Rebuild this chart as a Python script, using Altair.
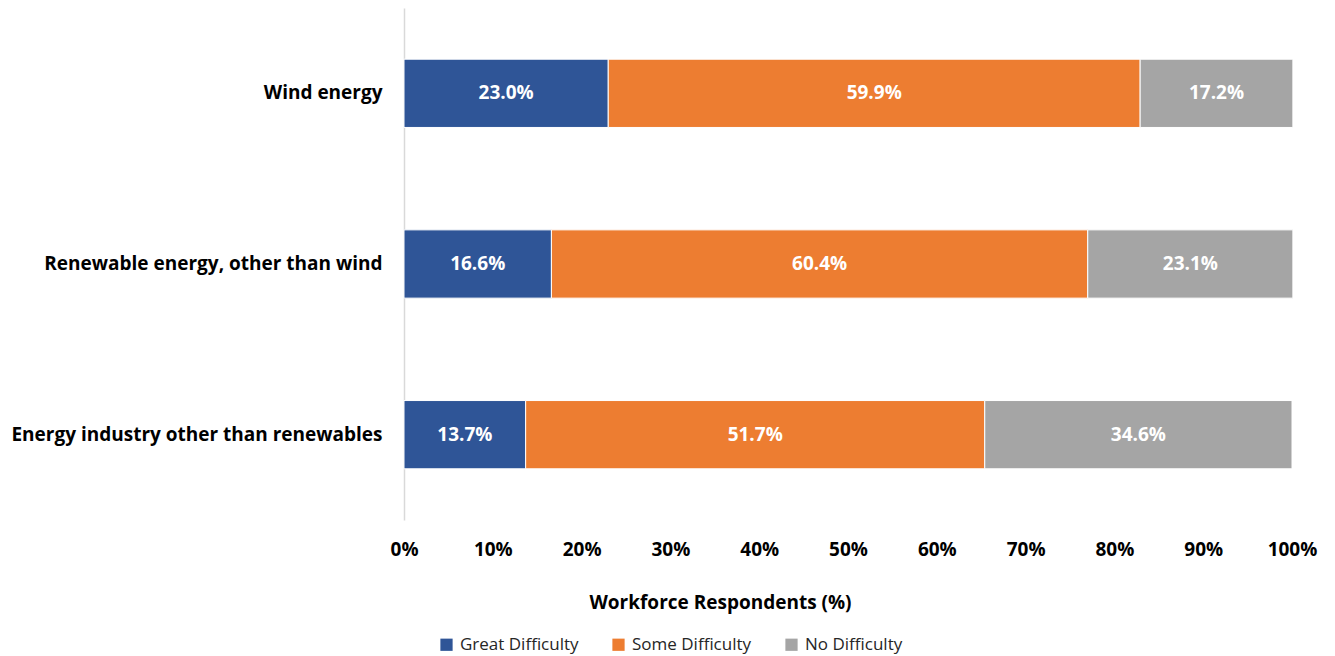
import altair as alt
import pandas as pd

categories = ["Wind energy", "Renewable energy, other than wind", "Energy industry other than renewables"]
series = ["Great Difficulty", "Some Difficulty", "No Difficulty"]
great = [23.0, 16.6, 13.7]
some = [59.9, 60.4, 51.7]
none_ = [17.2, 23.1, 34.6]
colors = ["#2F5597", "#ED7D31", "#A5A5A5"]
ticks = [0, 10, 20, 30, 40, 50, 60, 70, 80, 90, 100]

rows = []
for i, c in enumerate(categories):
    for j, (s, vals) in enumerate(zip(series, [great, some, none_])):
        rows.append({"category": c, "series": s, "value": vals[i], "order": j})
df = pd.DataFrame(rows)

FONT = "Open Sans"

base = alt.Chart(df).transform_stack(
    stack="value", groupby=["category"], as_=["x0", "x1"],
    sort=[alt.SortField("order", order="ascending")]
).transform_calculate(mid="(datum.x0 + datum.x1) / 2")

y = alt.Y("category:N", sort=categories, scale=alt.Scale(paddingInner=0.6, paddingOuter=0.3),
          axis=alt.Axis(title=None, labelFontSize=19, labelFontWeight="bold", labelColor="#000000",
                        labelFont=FONT, labelPadding=22, labelLimit=400, ticks=False,
                        domainColor="#D9D9D9", domainWidth=1.5))

bars = base.mark_bar(stroke="white", strokeWidth=1).encode(
    x=alt.X("x0:Q", scale=alt.Scale(domain=[0, 100]),
            axis=alt.Axis(values=ticks, labelExpr="datum.value + '%'", grid=False, domain=False,
                          ticks=False, labelFontSize=19, labelFontWeight="bold", labelColor="#000000",
                          labelFont=FONT, labelPadding=20, labelFlush=False, labelOverlap=False,
                          title="Workforce Respondents (%)", titleFontSize=19, titleFontWeight="bold",
                          titleFont=FONT, titleColor="#000000", titleX=316, titleY=73, titleAlign="center")),
    x2="x1:Q",
    y=y,
    color=alt.Color("series:N", sort=series, scale=alt.Scale(domain=series, range=colors),
                    legend=alt.Legend(title=None, orient="none", legendX=34, legendY=628,
                                      direction="horizontal", columns=3, columnPadding=31,
                                      symbolType="square", symbolSize=150, symbolStrokeWidth=0,
                                      labelFontSize=17, labelFont=FONT, labelColor="#262626",
                                      labelOffset=5)),
    order=alt.Order("order:Q"),
)

labels = base.mark_text(color="white", fontWeight="bold", fontSize=19, font=FONT).transform_calculate(
    lbl="format(datum.value, '.1f') + '%'"
).encode(
    x=alt.X("mid:Q"),
    y=alt.Y("category:N", sort=categories),
    text="lbl:N",
)

chart = alt.layer(bars, labels).properties(
    width=888, height=512,
    autosize=alt.AutoSizeParams(type="none"),
    padding={"left": 396, "top": 0, "right": 35, "bottom": 136},
).configure(background="white").configure_view(stroke=None)

chart.save("out.html", embed_options={"renderer": "svg", "actions": False})
